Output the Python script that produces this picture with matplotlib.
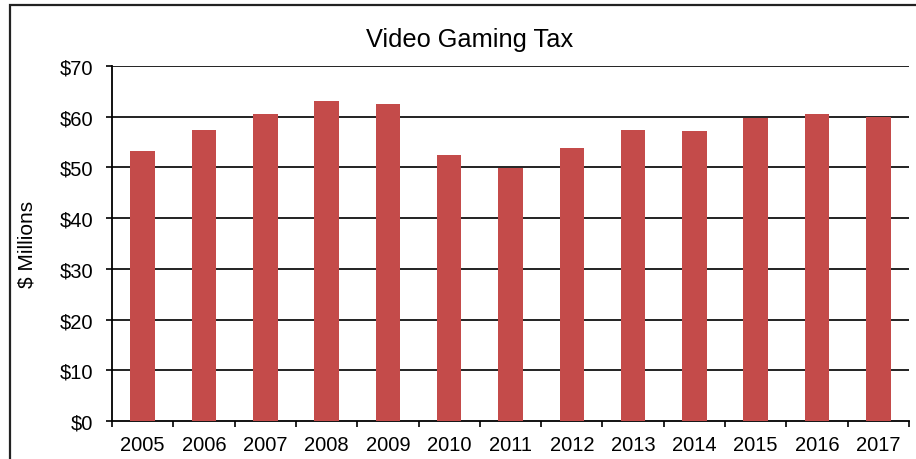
import numpy as np
import matplotlib
matplotlib.use("Agg")
import matplotlib.pyplot as plt
from matplotlib.patches import Rectangle

years = ["2005", "2006", "2007", "2008", "2009", "2010", "2011",
         "2012", "2013", "2014", "2015", "2016", "2017"]
tax = [53.3, 57.3, 60.6, 63.1, 62.5, 52.4, 49.8, 53.8, 57.3, 57.1, 59.8, 60.6, 60.0]
y_ticks = [0, 10, 20, 30, 40, 50, 60, 70]
y_labels = ["$0", "$10", "$20", "$30", "$40", "$50", "$60", "$70"]

plt.rcParams['font.family'] = ['Liberation Sans', 'DejaVu Sans']

fig = plt.figure(figsize=(9.16, 4.6), dpi=100)
ax = fig.add_axes([112/916, 1 - 422/460, (909 - 112)/916, (422 - 67)/460])

x = np.arange(len(years))
ax.bar(x, tax, width=0.4, color="#C44B4A", zorder=3)

ax.set_xlim(-0.5, len(years) - 0.5)
ax.set_ylim(0, 70)
ax.set_yticks(y_ticks)
ax.set_yticklabels(y_labels, fontsize=14.5)
ax.set_xticks(x)
ax.set_xticklabels(years, fontsize=14.5)
ax.set_xticks(np.arange(len(years) + 1) - 0.5, minor=True)
ax.tick_params(axis="x", which="major", length=0, pad=10)
ax.tick_params(axis="x", which="minor", length=4.3, width=1.2, direction="out")
ax.tick_params(axis="y", length=4, width=1.2, direction="out", pad=9.5)

for v in y_ticks[1:]:
    ax.axhline(v, color="#111111", linewidth=1.3, zorder=1)

for s in ["top", "right"]:
    ax.spines[s].set_visible(False)
ax.spines["left"].set_linewidth(1.3)
ax.spines["bottom"].set_linewidth(1.3)

ax.set_ylabel("$ Millions", fontsize=15)
ax.yaxis.set_label_coords(-0.095, 0.5)

fig.text(470/916, 1 - 40/460, "Video Gaming Tax", fontsize=18.3,
         ha="center", va="center")

fig.patches.append(Rectangle((10/916, -0.1), 1.2, 1 - 6/460 + 0.1,
                             transform=fig.transFigure, fill=False,
                             edgecolor="#222222", linewidth=1.6))

fig.savefig("out.png", dpi=100)
